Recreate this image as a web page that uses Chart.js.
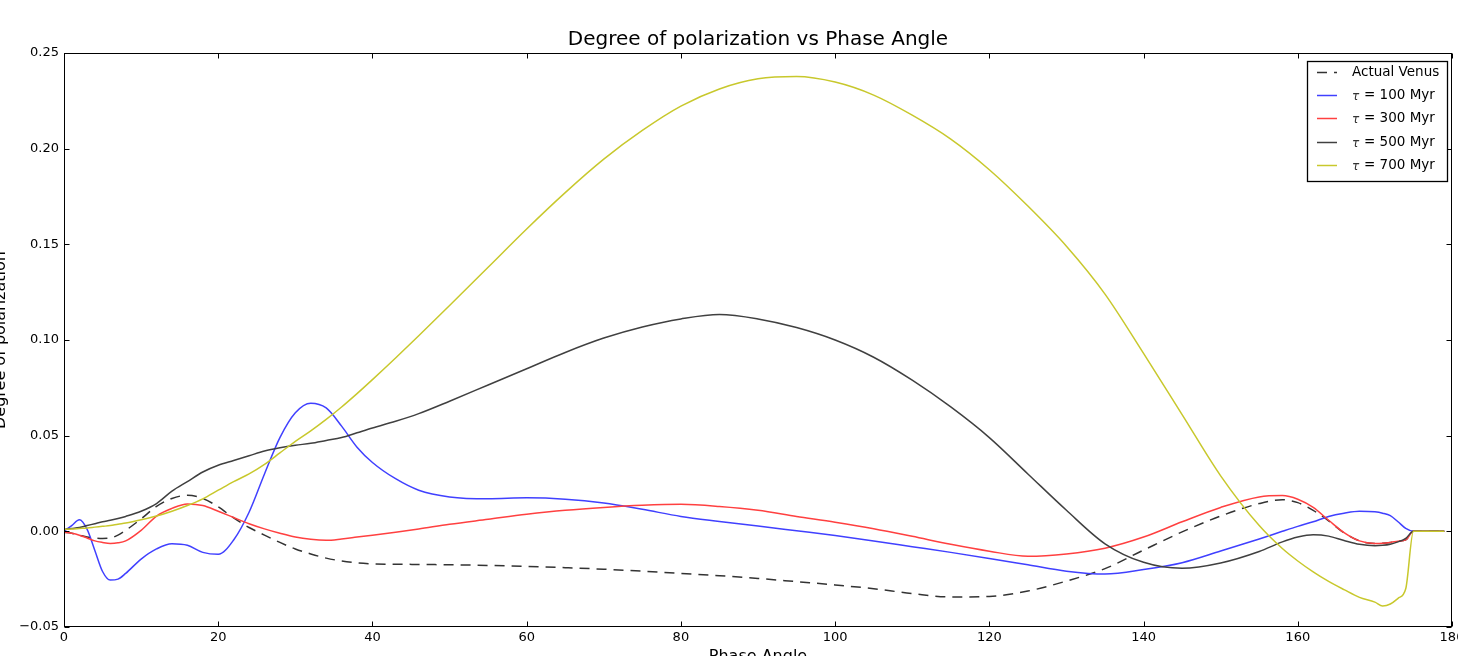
<!DOCTYPE html>
<html>
<head>
<meta charset="utf-8">
<title>Degree of polarization vs Phase Angle</title>
<script src="https://cdn.jsdelivr.net/npm/chart.js@4.4.1/dist/chart.umd.min.js"></script>
<style>
  html, body { margin: 0; padding: 0; background: #fff; overflow: hidden; }
  #wrap { position: absolute; left: -16px; top: 0; width: 1490px; height: 680px; }
</style>
</head>
<body>
<div id="wrap"><canvas id="polChart" width="1490" height="680"></canvas></div>
<script>
// phase angle samples (degrees), shared by every curve
const phaseAngle = [0, 1, 2, 3, 4, 5, 6, 7, 8, 10, 12, 14, 16, 18, 20, 22, 24, 26, 28, 30,
  32, 34, 36, 38, 40, 43, 46, 50, 55, 60, 65, 70, 75, 80, 85, 90, 95, 100, 105, 110,
  115, 120, 125, 130, 135, 140, 145, 150, 155, 158, 160, 162, 164, 166, 168, 170, 171, 172, 173, 174,
  175, 176, 179];

const actualVenus = [-0.0005, -0.001, -0.002, -0.003, -0.0035, -0.0037, -0.0035, -0.002, 0.0005, 0.0065,
  0.013, 0.0172, 0.0188, 0.0172, 0.0128, 0.007, 0.002, -0.002, -0.0058, -0.0092,
  -0.0118, -0.014, -0.0155, -0.0165, -0.017, -0.0172, -0.0173, -0.0175, -0.0178, -0.0183,
  -0.019, -0.0198, -0.0208, -0.022, -0.0232, -0.0246, -0.0263, -0.028, -0.030, -0.0325,
  -0.0343, -0.034, -0.0312, -0.026, -0.0195, -0.0098, -0.0003, 0.008, 0.0145, 0.0165,
  0.015, 0.011, 0.0055, -0.0008, -0.005, -0.0063, -0.0062, -0.0058, -0.0052, -0.0045,
  0, 0, 0];

const tau100 = [0.0, 0.003, 0.006, 0.001, -0.010, -0.021, -0.0255, -0.025, -0.022, -0.0145,
  -0.0092, -0.0065, -0.0073, -0.011, -0.012, -0.0045, 0.010, 0.030, 0.049, 0.062,
  0.067, 0.0645, 0.055, 0.044, 0.036, 0.0275, 0.0215, 0.018, 0.017, 0.0175,
  0.0168, 0.0148, 0.0115, 0.0078, 0.0052, 0.0028, 0.0003, -0.0022, -0.005, -0.008,
  -0.011, -0.0142, -0.0175, -0.0208, -0.0223, -0.020, -0.0164, -0.0103, -0.004, 0.0,
  0.0026, 0.005, 0.0078, 0.0095, 0.0105, 0.0102, 0.0095, 0.0082, 0.005, 0.0015,
  0, 0, 0];

const tau300 = [-0.0005, -0.001, -0.002, -0.0035, -0.005, -0.0058, -0.0063, -0.006, -0.005, 0.0005,
  0.008, 0.012, 0.0143, 0.0135, 0.0105, 0.0072, 0.004, 0.0013, -0.001, -0.003,
  -0.0042, -0.0047, -0.004, -0.003, -0.002, -0.0005, 0.0012, 0.0037, 0.0063, 0.0089,
  0.011, 0.0125, 0.0136, 0.0141, 0.013, 0.011, 0.0078, 0.0048, 0.0014, -0.0026,
  -0.0068, -0.0104, -0.013, -0.0118, -0.0088, -0.003, 0.005, 0.0125, 0.018, 0.0187,
  0.0168, 0.0125, 0.0058, -0.0007, -0.005, -0.0063, -0.0062, -0.0058, -0.0052, -0.0045,
  0, 0, 0];

const tau500 = [0.001, 0.0015, 0.002, 0.003, 0.004, 0.005, 0.0058, 0.0067, 0.0078, 0.0105,
  0.0145, 0.021, 0.026, 0.031, 0.0345, 0.037, 0.0395, 0.042, 0.0437, 0.045,
  0.046, 0.0475, 0.049, 0.0515, 0.054, 0.0575, 0.0615, 0.068, 0.0765, 0.085,
  0.0935, 0.101, 0.1068, 0.111, 0.1133, 0.111, 0.1065, 0.100, 0.091, 0.079,
  0.065, 0.049, 0.030, 0.011, -0.0065, -0.0162, -0.0193, -0.0165, -0.0105, -0.0055,
  -0.003, -0.0018, -0.0025, -0.0048, -0.0068, -0.0075, -0.0073, -0.0067, -0.0055, -0.0037,
  0, 0, 0];

const tau700 = [0.001, 0.0012, 0.0015, 0.0018, 0.0022, 0.0026, 0.003, 0.0037, 0.0043, 0.006,
  0.008, 0.0105, 0.0135, 0.017, 0.0215, 0.026, 0.030, 0.035, 0.041, 0.047,
  0.0525, 0.0585, 0.065, 0.072, 0.0793, 0.0906, 0.1022, 0.118, 0.138, 0.158,
  0.177, 0.1945, 0.2095, 0.2222, 0.2312, 0.2365, 0.2377, 0.2348, 0.228, 0.2175,
  0.205, 0.189, 0.170, 0.149, 0.124, 0.093, 0.061, 0.029, 0.003, -0.009,
  -0.0155, -0.0212, -0.0262, -0.0305, -0.0345, -0.037, -0.039, -0.038, -0.035, -0.030,
  0, 0, 0];

const seriesLabels = ['Actual Venus', '100 Myr', '300 Myr', '500 Myr', '700 Myr'];
const xTickValues = [0, 20, 40, 60, 80, 100, 120, 140, 160, 180];
const yTickValues = [-0.05, 0, 0.05, 0.10, 0.15, 0.20, 0.25];

const FONT = "'DejaVu Sans', sans-serif";
const colors = ['#333333', '#4040ff', '#ff4040', '#404040', '#c8c82c'];

function points(values) {
  return phaseAngle.map((a, i) => ({ x: a, y: values[i] }));
}

function fmtY(v) {
  if (Math.abs(v) < 1e-9) return '0.00';
  return v < 0 ? '\u2212' + Math.abs(v).toFixed(2) : v.toFixed(2);
}

// frame, inward ticks on all four sides, and the boxed legend in the corner
const frameAndLegend = {
  id: 'frameAndLegend',
  afterDraw(chart) {
    const { ctx, chartArea: a, scales } = chart;
    const L = Math.round(a.left) + 0.5, R = Math.round(a.right) - 0.5;
    const T = Math.round(a.top) + 0.5, B = Math.round(a.bottom) - 0.5;
    ctx.save();
    ctx.strokeStyle = '#000';
    ctx.lineWidth = 1;
    ctx.setLineDash([]);
    ctx.strokeRect(L, T, R - L, B - T);

    const tick = 5;
    ctx.beginPath();
    xTickValues.forEach(v => {
      const px = Math.round(scales.x.getPixelForValue(v)) + 0.5;
      ctx.moveTo(px, B); ctx.lineTo(px, B - tick);
      ctx.moveTo(px, T); ctx.lineTo(px, T + tick);
    });
    yTickValues.forEach(v => {
      const py = Math.round(scales.y.getPixelForValue(v)) + 0.5;
      ctx.moveTo(L, py); ctx.lineTo(L + tick, py);
      ctx.moveTo(R, py); ctx.lineTo(R - tick, py);
    });
    ctx.stroke();

    // legend
    const boxL = 1323.5, boxT = 61.5, boxW = 140, boxH = 120;
    ctx.fillStyle = '#fff';
    ctx.fillRect(boxL, boxT, boxW, boxH);
    ctx.lineWidth = 1.3;
    ctx.strokeStyle = '#000';
    ctx.strokeRect(boxL, boxT, boxW, boxH);

    const rowY0 = 72, rowStep = 23.2, handleX = 1333, handleLen = 20, textX = 1368;
    ctx.textBaseline = 'middle';
    ctx.textAlign = 'left';
    chart.data.datasets.forEach((ds, i) => {
      const y = Math.round(rowY0 + i * rowStep) + 0.5;
      ctx.beginPath();
      ctx.strokeStyle = ds.borderColor;
      ctx.lineWidth = 1.5;
      ctx.setLineDash(ds.borderDash || []);
      ctx.moveTo(handleX, y);
      ctx.lineTo(handleX + handleLen, y);
      ctx.stroke();
      ctx.setLineDash([]);
      ctx.fillStyle = '#000';
      if (i === 0) {
        ctx.font = '13.5px ' + FONT;
        ctx.fillText(seriesLabels[i], textX, y);
      } else {
        ctx.font = 'italic 12px ' + FONT;
        ctx.fillStyle = '#333';
        ctx.fillText('\u03C4', textX, y + 1);
        ctx.fillStyle = '#000';
        ctx.font = '13.5px ' + FONT;
        ctx.fillText('= ' + seriesLabels[i], textX + 12, y);
      }
    });
    ctx.restore();
  }
};

const curves = [actualVenus, tau100, tau300, tau500, tau700];

new Chart(document.getElementById('polChart'), {
  type: 'line',
  data: {
    datasets: curves.map((vals, i) => ({
      label: seriesLabels[i],
      data: points(vals),
      borderColor: colors[i],
      borderWidth: 1.5,
      borderDash: i === 0 ? [10, 7] : undefined,
      pointRadius: 0,
      fill: false,
      cubicInterpolationMode: 'monotone',
      order: 5 - i
    }))
  },
  options: {
    responsive: false,
    animation: false,
    events: [],
    layout: { padding: { left: 0, right: 22, top: 0, bottom: 14 } },
    plugins: {
      legend: { display: false },
      tooltip: { enabled: false },
      title: {
        display: true,
        text: 'Degree of polarization vs Phase Angle',
        color: '#000',
        fullSize: false,
        font: { family: FONT, size: 20, weight: 'normal', lineHeight: 1.1 },
        padding: { top: 29, bottom: 2 }
      }
    },
    scales: {
      x: {
        type: 'linear',
        min: 0,
        max: 180,
        grid: { display: false, drawTicks: false },
        border: { display: false },
        afterBuildTicks: axis => { axis.ticks = xTickValues.map(v => ({ value: v })); },
        afterFit: s => { s.height = 39; },
        ticks: {
          color: '#000',
          padding: 3,
          maxRotation: 0,
          autoSkip: false,
          font: { family: FONT, size: 13 },
          callback: v => String(v)
        },
        title: {
          display: true,
          text: 'Phase Angle',
          color: '#000',
          font: { family: FONT, size: 16 },
          padding: { top: 0, bottom: 0 }
        }
      },
      y: {
        min: -0.05,
        max: 0.25,
        grid: { display: false, drawTicks: false },
        border: { display: false },
        afterBuildTicks: axis => { axis.ticks = yTickValues.map(v => ({ value: v })); },
        afterFit: s => { s.width = 80; },
        ticks: {
          color: '#000',
          padding: 5,
          autoSkip: false,
          font: { family: FONT, size: 13 },
          callback: v => fmtY(v)
        },
        title: {
          display: true,
          text: 'Degree of polarization',
          color: '#000',
          font: { family: FONT, size: 16 },
          padding: { top: 7, bottom: 0 }
        }
      }
    }
  },
  plugins: [frameAndLegend]
});
</script>
</body>
</html>
